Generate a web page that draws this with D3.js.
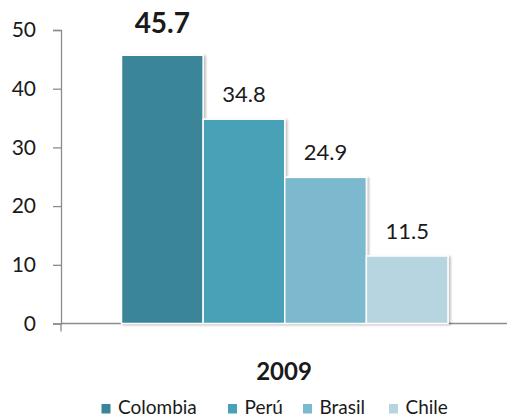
<!DOCTYPE html>
<html>
<head>
<meta charset="utf-8">
<script src="https://cdn.jsdelivr.net/npm/d3@7"></script>
<style>
  html, body { margin: 0; padding: 0; background: #fff; }
  svg { display: block; font-family: Lato, "Open Sans", sans-serif; }
</style>
</head>
<body>
<svg id="chart" width="507" height="418"></svg>
<script>
// Data
const year = "2009";
const countries = ["Colombia", "Perú", "Brasil", "Chile"];
const values = [45.7, 34.8, 24.9, 11.5];
const colors = ["#3a8598", "#48a1b8", "#7bb9ce", "#b7d5e0"];
const yTicks = [0, 10, 20, 30, 40, 50];

const svg = d3.select("#chart");

const y = d3.scaleLinear().domain([0, 50]).range([323.5, 30]);
const x = d3.scaleBand().domain(countries).range([121.5, 448]).padding(0);
const color = d3.scaleOrdinal().domain(countries).range(colors);

// soft shadow behind bars
const defs = svg.append("defs");
const f = defs.append("filter").attr("id", "shadow")
  .attr("x", "-10%").attr("y", "-10%").attr("width", "130%").attr("height", "130%");
f.append("feDropShadow").attr("dx", 2).attr("dy", 1).attr("stdDeviation", 1.2)
  .attr("flood-color", "#000").attr("flood-opacity", 0.25);

// x baseline across the plot
svg.append("line")
  .attr("x1", 61).attr("x2", 507)
  .attr("y1", y(0)).attr("y2", y(0))
  .attr("stroke", "#8c8c8c").attr("stroke-width", 1.3);
svg.append("line")
  .attr("x1", 61).attr("x2", 61)
  .attr("y1", y(0)).attr("y2", y(0) + 8)
  .attr("stroke", "#8c8c8c").attr("stroke-width", 1.3);

// bars
const data = countries.map((c, i) => ({ c, v: values[i] }));
svg.append("g").attr("filter", "url(#shadow)")
  .selectAll("rect").data(data).join("rect")
  .attr("x", d => x(d.c))
  .attr("y", d => y(d.v))
  .attr("width", x.bandwidth())
  .attr("height", d => y(0) - y(d.v))
  .attr("fill", d => color(d.c))
  .attr("stroke", "#fff").attr("stroke-width", 1.5);

// y axis
const yAxis = d3.axisLeft(y).tickValues(yTicks).tickSize(8).tickPadding(17)
  .tickFormat(d3.format("d"));
const gy = svg.append("g").attr("transform", "translate(61,0)").call(yAxis);
gy.select(".domain").attr("stroke", "#8c8c8c").attr("stroke-width", 1.3);
gy.selectAll(".tick line").attr("stroke", "#8c8c8c").attr("stroke-width", 1.3);
gy.selectAll(".tick text")
  .attr("fill", "#1a1a1a")
  .style("font-family", "Lato, sans-serif")
  .style("font-size", "21px");

// value labels
svg.append("g").selectAll("text").data(data).join("text")
  .attr("x", d => x(d.c) + x.bandwidth() / 2)
  .attr("y", (d, i) => y(d.v) - (i === 0 ? 22 : 17))
  .attr("text-anchor", "middle")
  .attr("fill", "#1a1a1a")
  .style("font-weight", (d, i) => i === 0 ? 700 : 400)
  .style("font-size", (d, i) => i === 0 ? "28px" : "22px")
  .text(d => d3.format(".1f")(d.v));

// category (year) label
svg.append("text")
  .attr("x", 284).attr("y", 379.5)
  .attr("text-anchor", "middle")
  .attr("fill", "#1a1a1a")
  .style("font-weight", 700)
  .style("font-size", "24px")
  .text(year);

// legend
const legendX = [101.5, 228, 303, 389];
const lg = svg.append("g").selectAll("g").data(countries).join("g")
  .attr("transform", (d, i) => `translate(${legendX[i]},0)`);
lg.append("rect")
  .attr("x", 0).attr("y", 404).attr("width", 9).attr("height", 9.5)
  .attr("fill", d => color(d));
lg.append("text")
  .attr("x", 16.5).attr("y", 413.5)
  .attr("fill", "#1a1a1a")
  .style("font-size", "19px")
  .text(d => d);
</script>
</body>
</html>
